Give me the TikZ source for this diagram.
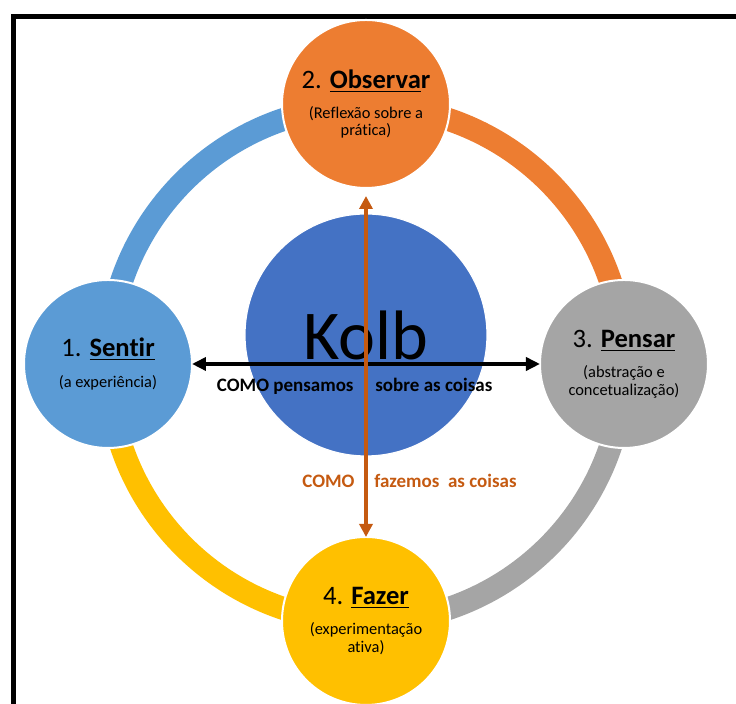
\documentclass[tikz,border=0pt]{standalone}
\usepackage{fontspec}
\setmainfont[Ligatures=NoCommon]{Carlito}
\usepackage{tikz}
\usetikzlibrary{arrows.meta,positioning}

\definecolor{sentirblue}{HTML}{5B9BD5}
\definecolor{observarorange}{HTML}{ED7D31}
\definecolor{pensargray}{HTML}{A5A5A5}
\definecolor{fazergold}{HTML}{FFC000}
\definecolor{kolbblue}{HTML}{4472C4}
\definecolor{doorange}{HTML}{C55A11}

\tikzset{
    stage/.style={circle, minimum size=84pt, inner sep=0pt, outer sep=0pt,
        draw=white, line width=1pt, align=center, text=black,
        font=\fontsize{8.2}{8.7}\selectfont},
    ring/.style={line width=11.5pt},
    howlabel/.style={font=\fontsize{9.5}{11}\selectfont\bfseries, inner sep=0pt},
    thinkarrow/.style={<->, line width=2.2pt, draw=black,
        >={Triangle[length=7pt, width=6.5pt]}},
    doarrow/.style={<->, line width=2.2pt, draw=doorange,
        >={Triangle[length=6.5pt, width=6.5pt]}}
}

\begin{document}
\begin{tikzpicture}[x=0.5pt, y=0.5pt]
                        \useasboundingbox (-366, -340) rectangle (370, 364);
                        \draw[line width=2.5pt] (-352.5, -350) -- (-352.5, 347) -- (380, 347);
                        \draw[ring, sentirblue] (180:258) arc[start angle=180, end angle=90, radius=258];
                        \draw[ring, observarorange] (90:258) arc[start angle=90, end angle=0, radius=258];
                        \draw[ring, pensargray] (0:258) arc[start angle=0, end angle=-90, radius=258];
                        \draw[ring, fazergold] (-90:258) arc[start angle=-90, end angle=-180, radius=258];
                        \node[stage, fill=sentirblue] (sentir) at (-258, 0)
                            {{\fontsize{13.3}{15}\selectfont 1. \underline{\textbf{Sentir}}}\\[7pt](a experiência)};
                        \node[stage, fill=observarorange] (observar) at (0, 260)
                            {{\fontsize{13.3}{15}\selectfont 2. \underline{\textbf{Observa}}\textbf{r}}\\[6.5pt](Reflexão sobre a\\prática)};
                        \node[stage, fill=pensargray] (pensar) at (258, 0)
                            {{\fontsize{13.3}{15}\selectfont 3. \underline{\textbf{Pensar}}}\\[6.5pt](abstração e\\concetualização)};
                        \node[stage, fill=fazergold] (fazer) at (0, -257)
                            {{\fontsize{13.3}{15}\selectfont 4. \underline{\textbf{Fazer}}}\\[6.5pt](experimentação\\ativa)};
                        \node[circle, minimum size=121pt, inner sep=0pt, fill=kolbblue, draw=white, line width=0.6pt,
                            font=\fontsize{35}{40}\selectfont] (kolb) at (0, 29) {Kolb};
                        \node[howlabel, anchor=base east] (thinkA) at (-12, -28) {COMO pensamos};
                        \node[howlabel, anchor=base west] (thinkB) at (9, -28) {sobre as coisas};
                        \node[howlabel, text=doorange, anchor=base east] (doA) at (-11, -124) {COMO};
                        \node[howlabel, text=doorange, anchor=base west] (doB) at (8, -124) {fazemos\ \ as coisas};
                        \draw[thinkarrow] (sentir) -- (pensar);
                        \draw[doarrow] ([yshift=-4pt]observar.south) -- (fazer.north);
                    \end{tikzpicture}
\end{document}
